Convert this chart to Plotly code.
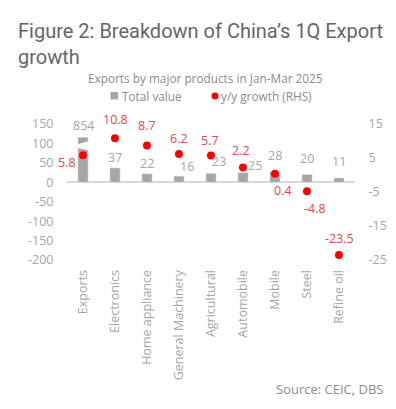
import plotly.graph_objects as go

categories = ["Exports", "Electronics", "Home appliance", "General Machinery",
              "Agricultural", "Automobile", "Mobile", "Steel", "Refine oil"]
total_value = [854, 37, 22, 16, 23, 25, 28, 20, 11]
yy_growth = [5.8, 10.8, 8.7, 6.2, 5.7, 2.2, 0.4, -4.8, -23.5]
left_ticks = [-200, -150, -100, -50, 0, 50, 100, 150]
right_ticks = [-25, -15, -5, 5, 15]

# broken-axis display cap for the oversized Exports bar
BREAK_CAP = 116

x = list(range(len(categories)))
bar_shown = [min(v, BREAK_CAP) for v in total_value]

GREY_TXT = "#a6a6a6"
RED_TXT = "#e8474a"
FONT = "Open Sans"

# label offsets (pixels)
bar_lbl_dx = [0, 0, 0, 8, 8, 12, 0, 0, 0]
bar_lbl_dy = [12, 10, 10, 10, 11.5, 7, 16, 16, 17]
dot_lbl_dx = [-16, 0, 0, 0, -1, -2, 8, 8, 0]
dot_lbl_dy = [-7, 19, 20, 15.5, 15.5, 17.5, -16.5, -17, 16.5]

L, R, T, B = 67, 41, 124, 149
W, H = 396, 409
pw, ph = W - L - R, H - T - B

def pxx(px):
    return (px - L) / pw

def pxy(py):
    return (H - B - py) / ph

fig = go.Figure()
fig.add_trace(go.Bar(
    x=x, y=bar_shown, name="Total value", marker_color="#a6a6a6",
    width=0.32, yaxis="y", hoverinfo="skip", showlegend=False,
))
fig.add_trace(go.Scatter(
    x=x, y=yy_growth, name="y/y growth (RHS)", mode="markers",
    marker=dict(color="#ff0000", size=8), yaxis="y2", hoverinfo="skip", showlegend=False,
))

ann = []
for i, (v, s) in enumerate(zip(total_value, bar_shown)):
    ann.append(dict(x=i, y=s, xref="x", yref="y", text=str(v), showarrow=False,
                    xanchor="center", yanchor="middle",
                    xshift=bar_lbl_dx[i], yshift=bar_lbl_dy[i],
                    font=dict(family=FONT, size=12.5, color=GREY_TXT)))
for i, g in enumerate(yy_growth):
    ann.append(dict(x=i, y=g, xref="x", yref="y2", text=f"{g:.1f}", showarrow=False,
                    xanchor="center", yanchor="middle",
                    xshift=dot_lbl_dx[i], yshift=dot_lbl_dy[i],
                    font=dict(family=FONT, size=12.5, color=RED_TXT)))

ann.append(dict(text="Exports by major products in Jan-Mar 2025", x=pxx(205), y=pxy(78),
                xref="paper", yref="paper", showarrow=False, xanchor="center", yanchor="middle",
                font=dict(family=FONT, size=11.8, color="#8c8c8c")))
ann.append(dict(text="Source: CEIC, DBS", x=pxx(386), y=pxy(389),
                xref="paper", yref="paper", showarrow=False, xanchor="right", yanchor="middle",
                font=dict(family=FONT, size=13, color="#8c8c8c")))
# legend (manual)
ann.append(dict(text="Total value", x=pxx(120), y=pxy(96), xref="paper", yref="paper",
                showarrow=False, xanchor="left", yanchor="middle",
                font=dict(family=FONT, size=11.8, color="#8c8c8c")))
ann.append(dict(text="y/y growth (RHS)", x=pxx(219), y=pxy(96), xref="paper", yref="paper",
                showarrow=False, xanchor="left", yanchor="middle",
                font=dict(family=FONT, size=11.8, color="#8c8c8c")))

shapes = [
    dict(type="path", xref="x", yref="y", layer="above",
         path="M -0.2,97.4 L 0.2,106 L 0.2,81.9 L -0.2,88.9 Z",
         fillcolor="white", line=dict(width=0)),
    dict(type="rect", xref="paper", yref="paper", x0=pxx(110.5), x1=pxx(118),
         y0=pxy(99.5), y1=pxy(92), fillcolor="#a6a6a6", line=dict(width=0)),
    dict(type="circle", xref="paper", yref="paper", x0=pxx(211.5), x1=pxx(218.5),
         y0=pxy(99.5), y1=pxy(92.5), fillcolor="#ff0000", line=dict(width=0)),
]

fig.update_layout(
    width=W, height=H,
    margin=dict(l=L, r=R, t=T, b=B, autoexpand=False),
    paper_bgcolor="white", plot_bgcolor="white",
    font=dict(family=FONT, color=GREY_TXT),
    title=dict(text="Figure 2: Breakdown of China\u2019s 1Q Export<br>growth",
               x=18 / W, xanchor="left", y=1 - 38 / H, yanchor="top",
               font=dict(family="Roboto", size=20, color="#666666")),
    showlegend=False,
    xaxis=dict(range=[-0.5, len(categories) - 0.5], tickvals=x, ticktext=categories,
               tickangle=-90, showgrid=False, zeroline=False, showline=False,
               ticks="outside", ticklen=4, tickcolor="rgba(0,0,0,0)",
               tickfont=dict(family=FONT, size=12.5, color=GREY_TXT)),
    yaxis=dict(range=[-200, 150], tickvals=left_ticks, ticktext=[str(t) for t in left_ticks],
               showgrid=False, zeroline=True, zerolinecolor="#d9d9d9", zerolinewidth=1.5,
               showline=False, ticks="outside", ticklen=10, tickcolor="rgba(0,0,0,0)",
               tickfont=dict(family=FONT, size=12.5, color=GREY_TXT)),
    yaxis2=dict(range=[-25, 15], tickvals=right_ticks, ticktext=[str(t) for t in right_ticks],
                overlaying="y", side="right",
                showgrid=False, zeroline=False, showline=False,
                ticks="outside", ticklen=10, tickcolor="rgba(0,0,0,0)",
                tickfont=dict(family=FONT, size=12.5, color=GREY_TXT)),
    annotations=ann,
    shapes=shapes,
)

fig.write_html("out.html", config={"displayModeBar": False},
               post_script="document.body.style.margin='0px';")
